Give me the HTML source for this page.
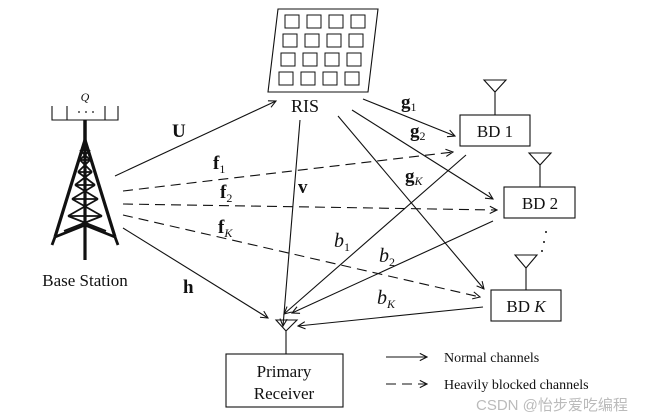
<!DOCTYPE html>
<html><head><meta charset="utf-8"><style>
html,body{margin:0;padding:0;background:#fff;}
svg{display:block;}
text{font-family:"Liberation Serif",serif;fill:#111;}
</style></head><body>
<svg width="650" height="420" viewBox="0 0 650 420" xmlns="http://www.w3.org/2000/svg">
<defs>
<marker id="a" viewBox="0 0 10 10" refX="9" refY="5" markerWidth="9" markerHeight="9" orient="auto" markerUnits="userSpaceOnUse">
<path d="M1,1 L9,5 L1,9" fill="none" stroke="#111" stroke-width="1.2"/></marker>
</defs>
<g stroke="#111" stroke-width="1.1" fill="none">
<polygon points="278,9 378,9 368,92 268,92"/>
<g stroke-width="1">
<path d="M285,15h14v13h-14z M307,15h14v13h-14z M329,15h14v13h-14z M351,15h14v13h-14z"/>
<path d="M283,34h14v13h-14z M305,34h14v13h-14z M327,34h14v13h-14z M349,34h14v13h-14z"/>
<path d="M281,53h14v13h-14z M303,53h14v13h-14z M325,53h14v13h-14z M347,53h14v13h-14z"/>
<path d="M279,72h14v13h-14z M301,72h14v13h-14z M323,72h14v13h-14z M345,72h14v13h-14z"/>
</g>
<path d="M52,106 V120 H118 V106 M67,106 V120 M105,106 V120"/>
</g>
<g fill="#111"><circle cx="79" cy="112" r="0.9"/><circle cx="86" cy="112" r="0.9"/><circle cx="93" cy="112" r="0.9"/></g>
<g stroke="#111" fill="none">
<path d="M85,120 V142" stroke-width="3.5"/>
<path d="M85,140 L55,237 M85,140 L115,237 M85,140 L85,260" stroke-width="3.2"/>
<path d="M55,237 L85,225 L115,237 M55,237 L52,245 M115,237 L118,245" stroke-width="2.8"/>
<path d="M80,150 L90,160 M90,150 L80,160 M80,160 L92,172 M90,160 L78,172 M78,172 L95,185 M92,172 L75,185 M75,185 L98,199 M95,185 L72,199 M72,199 L102,216 M98,199 L68,216 M68,216 L106,231 M102,216 L64,231 M81,150H89 M80,160H90 M78,172H92 M75,185H95 M72,199H98 M68,216H102" stroke-width="1.8"/>
</g>
<text x="85" y="101" font-size="12" font-style="italic" text-anchor="middle">Q</text>
<text x="85" y="286" font-size="17" text-anchor="middle">Base Station</text>
<text x="305" y="112" font-size="18" text-anchor="middle">RIS</text>
<g stroke="#111" stroke-width="1.1" fill="none">
<line x1="115" y1="176" x2="276" y2="101" marker-end="url(#a)"/>
<line x1="123" y1="228" x2="268" y2="318" marker-end="url(#a)"/>
<line x1="300" y1="120" x2="283" y2="326" marker-end="url(#a)"/>
<line x1="363" y1="99" x2="455" y2="136" marker-end="url(#a)"/>
<line x1="352" y1="110" x2="493" y2="199" marker-end="url(#a)"/>
<line x1="338" y1="116" x2="484" y2="289" marker-end="url(#a)"/>
<line x1="466" y1="155" x2="284" y2="314" marker-end="url(#a)"/>
<line x1="493" y1="221" x2="292" y2="313" marker-end="url(#a)"/>
<line x1="483" y1="307" x2="298" y2="326" marker-end="url(#a)"/>
<g stroke-dasharray="10,6">
<line x1="123" y1="191" x2="453" y2="152" marker-end="url(#a)"/>
<line x1="123" y1="204" x2="497" y2="210" marker-end="url(#a)"/>
<line x1="123" y1="215" x2="480" y2="297" marker-end="url(#a)"/>
<line x1="386" y1="384" x2="427" y2="384" marker-end="url(#a)"/>
</g>
<line x1="386" y1="357" x2="427" y2="357" marker-end="url(#a)"/>
<rect x="460" y="115" width="70" height="31"/>
<path d="M495,115 V91 M484,80 H506 L495,92 Z"/>
<rect x="504" y="187" width="71" height="31"/>
<path d="M540,187 V164 M529,153 H551 L540,165 Z"/>
<rect x="491" y="290" width="70" height="31"/>
<path d="M526,290 V267 M515,255 H537 L526,268 Z"/>
<rect x="226" y="354" width="117" height="53"/>
<path d="M286,354 V331 M276,320 H297 L286,331 Z"/>
</g>
<g fill="#111"><circle cx="546" cy="232" r="1"/><circle cx="544" cy="242" r="1"/><circle cx="542" cy="251" r="1"/></g>
<g font-size="17">
<text x="495" y="137" text-anchor="middle">BD 1</text>
<text x="540" y="209" text-anchor="middle">BD 2</text>
<text x="526" y="312" text-anchor="middle">BD <tspan font-style="italic">K</tspan></text>
<text x="284" y="377" text-anchor="middle">Primary</text>
<text x="284" y="399" text-anchor="middle">Receiver</text>
</g>
<g font-size="14"><text x="444" y="362">Normal channels</text><text x="444" y="389">Heavily blocked channels</text></g>
<g font-size="19" font-weight="bold">
<text x="172" y="137">U</text>
<text x="213" y="169">f<tspan font-size="12" font-weight="normal" dy="4">1</tspan></text>
<text x="220" y="198">f<tspan font-size="12" font-weight="normal" dy="4">2</tspan></text>
<text x="218" y="233">f<tspan font-size="12" font-weight="normal" font-style="italic" dy="4">K</tspan></text>
<text x="183" y="293">h</text>
<text x="298" y="193">v</text>
<text x="401" y="108">g<tspan font-size="12" font-weight="normal" dy="3">1</tspan></text>
<text x="410" y="137">g<tspan font-size="12" font-weight="normal" dy="3">2</tspan></text>
<text x="405" y="182">g<tspan font-size="12" font-weight="normal" font-style="italic" dy="3">K</tspan></text>
</g>
<g font-size="20" font-style="italic">
<text x="334" y="247">b<tspan font-size="12" font-style="normal" dy="4">1</tspan></text>
<text x="379" y="262">b<tspan font-size="12" font-style="normal" dy="4">2</tspan></text>
<text x="377" y="304">b<tspan font-size="12" dy="4">K</tspan></text>
</g>
<text x="476" y="410" font-size="15" style="fill:#bbb;font-family:'Liberation Sans','Noto Sans CJK SC',sans-serif">CSDN @怡步爱吃编程</text>
</svg>
</body></html>
